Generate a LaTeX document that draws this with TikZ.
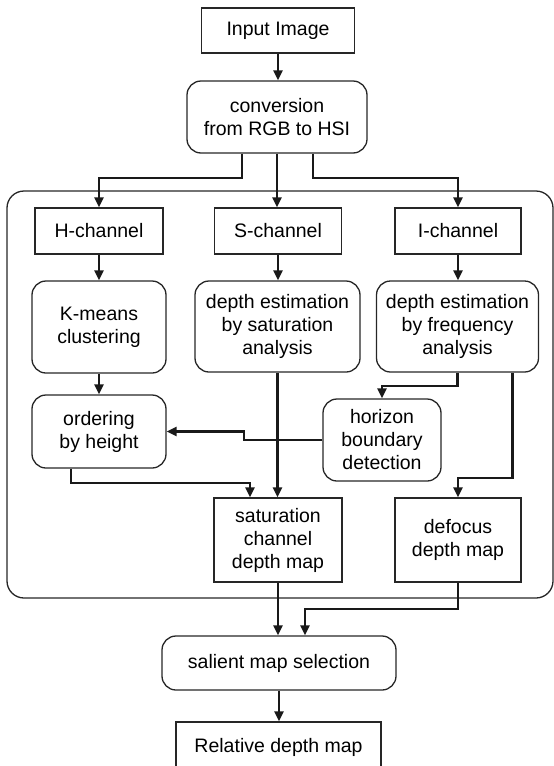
\documentclass[tikz,border=0pt]{standalone}
\usepackage{fontspec}
\setmainfont{Liberation Sans}
\usetikzlibrary{arrows.meta}
\begin{document}
\begin{tikzpicture}[x=1pt, y=-1pt,
        box/.style={draw=black!85, line width=1.3pt, inner sep=0pt, align=center,
            font=\fontsize{19.5}{23}\selectfont},
        rbox/.style={box, rounded corners=14pt},
        arr/.style={-{Triangle[length=10pt,width=9pt]}, line width=2.2pt, draw=black!90}]
        \useasboundingbox (0,0) rectangle (554,766);
        % frame round the three channels
        \draw[draw=black!85, line width=1.3pt, rounded corners=17pt] (7,191) rectangle (553,598);
        % boxes
        \node[box, minimum width=153pt, minimum height=45pt] (inimg) at (278,30.5) {Input Image};
        \node[rbox, minimum width=180pt, minimum height=72pt] (conv) at (277,117) {conversion\\from RGB to HSI};
        \node[box, minimum width=128pt, minimum height=46pt] (hch) at (99,231) {H-channel};
        \node[box, minimum width=127pt, minimum height=46pt] (sch) at (278,231) {S-channel};
        \node[box, minimum width=126pt, minimum height=46pt] (ich) at (458,231) {I-channel};
        \node[rbox, minimum width=134pt, minimum height=92pt] (kmeans) at (99,327) {K-means\\clustering};
        \node[rbox, minimum width=165pt, minimum height=91pt] (satest) at (277.5,326.5) {depth estimation\\by saturation\\analysis};
        \node[rbox, minimum width=162pt, minimum height=91pt] (freqest) at (457.5,326.5) {depth estimation\\by frequency\\analysis};
        \node[rbox, minimum width=134pt, minimum height=73pt] (order) at (99,431.5) {ordering\\by height};
        \node[rbox, minimum width=118pt, minimum height=82pt] (horizon) at (382,440) {horizon\\boundary\\detection};
        \node[box, minimum width=128pt, minimum height=84pt] (satmap) at (278,540) {saturation\\channel\\depth map};
        \node[box, minimum width=126pt, minimum height=84pt] (defocus) at (458,540) {defocus\\depth map};
        \node[rbox, minimum width=234pt, minimum height=54pt] (salient) at (279,663) {salient map selection};
        \node[box, minimum width=205pt, minimum height=50pt] (reldepth) at (278.5,747) {Relative depth map};
        % straight arrows
        \foreach \a/\b in {inimg/conv, conv/sch, hch/kmeans, sch/satest, ich/freqest, kmeans/order, satest/satmap}
            \draw[arr] (\a.south) -- (\a.south |- \b.north);
        \draw[arr] (satmap.south) -- (satmap.south |- salient.north);
        \draw[arr] (salient.south) -- (salient.south |- reldepth.north);
        % split into channels
        \draw[arr] ([xshift=-35pt]conv.south) -- ++(0,24) -| (hch.north);
        \draw[arr] ([xshift=36pt]conv.south) -- ++(0,24) -| (ich.north);
        % elbow arrows
        \draw[arr] (freqest.south) -- ++(0,13) -| (horizon.north);
        \draw[arr] ([xshift=55pt]freqest.south) -- ++(0,105) -| (defocus.north);
        \draw[arr] (horizon.west) -- ++(-78,0) |- (order.east);
        \draw[arr] ([xshift=-28pt]order.south) -- ++(0,14) -| ([xshift=-28pt]satmap.north);
        \draw[arr] (defocus.south) -- ++(0,26) -| ([xshift=26pt]salient.north);
    \end{tikzpicture}
\end{document}
